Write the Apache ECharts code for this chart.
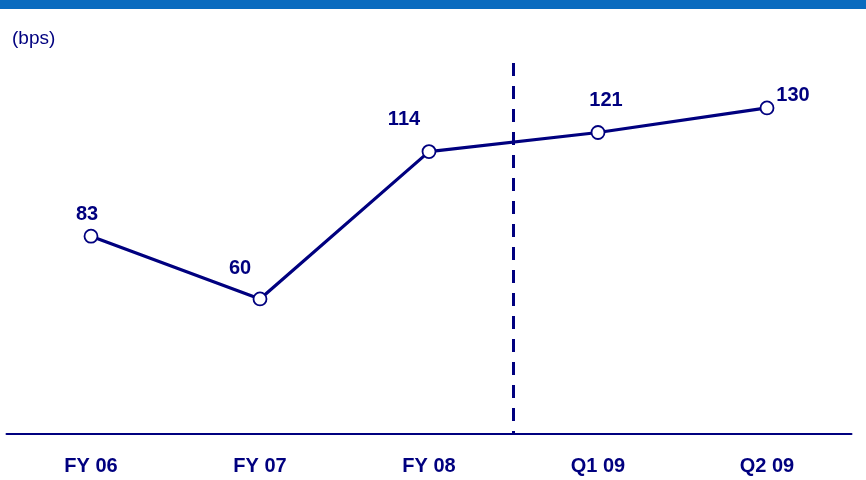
<!DOCTYPE html>
<html>
<head>
<meta charset="utf-8">
<script src="https://cdn.jsdelivr.net/npm/echarts@6/dist/echarts.min.js"></script>
<style>
  html, body { margin: 0; padding: 0; background: #fff; }
  #chart { width: 866px; height: 480px; }
</style>
</head>
<body>
<div id="chart"></div>
<script>
// periods and margin in bps
const periods = ['FY 06', 'FY 07', 'FY 08', 'Q1 09', 'Q2 09'];
const bps = [83, 60, 114, 121, 130];
// nudges for each value label (from the default 'top' place)
const labelShifts = [[-4, 1], [-20, -8], [-25, -10], [8, -10], [26, 10]];
// dashed divider between the fiscal years and the quarters (band edge 3 of 5)
const dividerAt = 3;
const dividerSpan = [146.5, 10.5];

const navy = '#00007f';
const font = '"Liberation Sans", Arial, sans-serif';

function render() {
  const chart = echarts.init(document.getElementById('chart'), null, {
    width: 866,
    height: 480
  });

  chart.setOption({
    animation: false,
    graphic: [
      {
        // blue banner strip along the top
        type: 'rect',
        left: 0,
        top: 0,
        shape: { width: 866, height: 9 },
        style: { fill: '#0a6bbf' }
      },
      {
        type: 'text',
        left: 12,
        top: 29,
        style: {
          text: '(bps)',
          fill: navy,
          font: '19px ' + font
        }
      }
    ],
    grid: {
      left: 6.5,
      right: 14.5,
      top: 52,
      bottom: 46
    },
    xAxis: [
      {
        type: 'category',
        data: periods,
        boundaryGap: true,
        axisLine: { lineStyle: { color: navy, width: 2 } },
        axisTick: { show: false },
        axisLabel: {
          color: navy,
          fontWeight: 'bold',
          fontSize: 20,
          fontFamily: font,
          margin: 22
        }
      },
      {
        // hidden helper axis so the divider can sit between two bands
        type: 'value',
        min: 0,
        max: periods.length,
        show: false
      }
    ],
    yAxis: {
      type: 'value',
      min: 10.5,
      max: 150.5,
      show: false,
      splitLine: { show: false }
    },
    series: [
      {
        type: 'line',
        data: bps.map((v, i) => ({
          value: v,
          label: { offset: labelShifts[i] }
        })),
        symbol: 'circle',
        symbolSize: 13,
        lineStyle: { color: navy, width: 3.2 },
        itemStyle: { color: '#fff', borderColor: navy, borderWidth: 1.8 },
        label: {
          show: true,
          position: 'top',
          color: navy,
          fontWeight: 'bold',
          fontSize: 20,
          fontFamily: font
        },
        z: 3
      },
      {
        type: 'line',
        xAxisIndex: 1,
        data: [[dividerAt, dividerSpan[1]]],
        showSymbol: false,
        symbol: 'none',
        lineStyle: { opacity: 0 },
        markLine: {
          silent: true,
          symbol: 'none',
          label: { show: false },
          lineStyle: { color: navy, width: 3, type: [13, 10] },
          data: [[
            { coord: [dividerAt, dividerSpan[0]] },
            { coord: [dividerAt, dividerSpan[1]] }
          ]]
        },
        z: 2
      }
    ]
  });
}

render();
</script>
</body>
</html>
